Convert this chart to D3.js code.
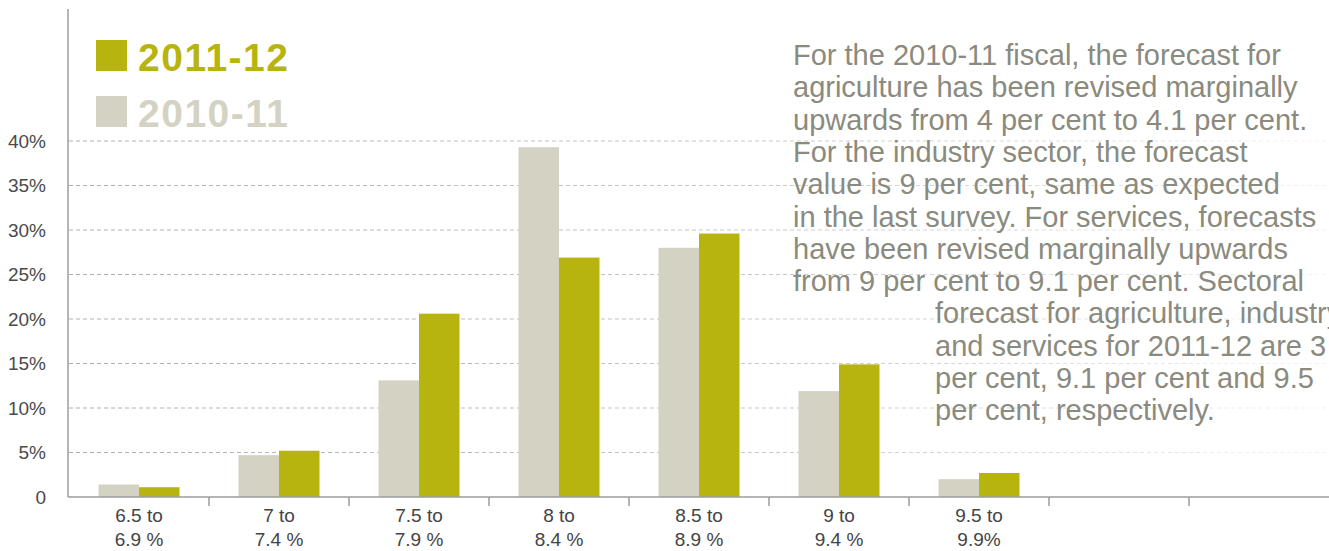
<!DOCTYPE html>
<html>
<head>
<meta charset="utf-8">
<script src="https://cdn.jsdelivr.net/npm/d3@7/dist/d3.min.js"></script>
<style>
  html, body { margin: 0; padding: 0; background: #ffffff; }
  svg { display: block; font-family: "Liberation Sans", Arial, Helvetica, sans-serif; }
</style>
</head>
<body>
<svg id="chart" width="1329" height="551"></svg>
<script>
// Growth-range buckets (two-line labels); the last two slots are left empty
const categories = ["6.5 to|6.9 %", "7 to|7.4 %", "7.5 to|7.9 %", "8 to|8.4 %", "8.5 to|8.9 %",
                    "9 to|9.4 %", "9.5 to|9.9%", "", " "];
const seriesNames = ["2010-11", "2011-12"];
// Share of respondents (%) per bucket
const values2010 = [1.4, 4.7, 13.1, 39.3, 28.0, 11.9, 2.0];
const values2011 = [1.1, 5.2, 20.6, 26.9, 29.6, 14.9, 2.7];
const yTicks = [0, 5, 10, 15, 20, 25, 30, 35, 40];
const yTickLabels = ["0", "5%", "10%", "15%", "20%", "25%", "30%", "35%", "40%"];
const legendOrder = ["2011-12", "2010-11"];
const noteLines = [
  "For the 2010-11 fiscal, the forecast for",
  "agriculture has been revised marginally",
  "upwards from 4 per cent to 4.1 per cent.",
  "For the industry sector, the forecast",
  "value is 9 per cent, same as expected",
  "in the last survey. For services, forecasts",
  "have been revised marginally upwards",
  "from 9 per cent to 9.1 per cent. Sectoral",
  "forecast for agriculture, industry",
  "and services for 2011-12 are 3",
  "per cent, 9.1 per cent and 9.5",
  "per cent, respectively."
];

const colors = { "2010-11": "#d4d2c3", "2011-12": "#b8b40f" };

const svg = d3.select("#chart");
const W = 1329;
const plotLeft = 69, plotRight = 1329, plotTop = 9, plotBottom = 497;

const x = d3.scaleBand().domain(categories).range([plotLeft, plotRight]).padding(0);
const xs = d3.scaleBand().domain(seriesNames).range([-40.5, 40.5]).padding(0);
const y = d3.scaleLinear().domain([0, 40]).range([plotBottom, 141]);

// gridline fade toward the right edge
const defs = svg.append("defs");
const grad = defs.append("linearGradient")
  .attr("id", "gridFade").attr("gradientUnits", "userSpaceOnUse")
  .attr("x1", plotLeft).attr("x2", W).attr("y1", 0).attr("y2", 0);
grad.append("stop").attr("offset", 0).attr("stop-color", "#b0b0b0");
grad.append("stop").attr("offset", 0.55).attr("stop-color", "#c8c8c8");
grad.append("stop").attr("offset", 1).attr("stop-color", "#f4f4f4");

// dashed horizontal gridlines
svg.append("g").selectAll("line")
  .data(yTicks.filter(d => d > 0))
  .join("line")
  .attr("x1", plotLeft).attr("x2", W)
  .attr("y1", d => y(d)).attr("y2", d => y(d))
  .attr("stroke", "url(#gridFade)")
  .attr("stroke-width", 1)
  .attr("stroke-dasharray", "4,3");

// y axis
const yAxis = d3.axisLeft(y).tickValues(yTicks)
  .tickFormat((d, i) => yTickLabels[i]).tickSize(0).tickPadding(22);
const gy = svg.append("g").attr("transform", `translate(${plotLeft - 1},0)`).call(yAxis);
gy.select(".domain").remove();
gy.selectAll("text").attr("font-size", 19).attr("fill", "#4a4a4a")
  .attr("font-family", "Liberation Sans, Arial, sans-serif");
svg.append("line").attr("x1", plotLeft - 1).attr("x2", plotLeft - 1)
  .attr("y1", plotTop).attr("y2", plotBottom)
  .attr("stroke", "#9c9c9c").attr("stroke-width", 1.5);

// bars
const rows = values2010.map((v, i) => ({ cat: categories[i], "2010-11": v, "2011-12": values2011[i] }));
const groups = svg.append("g").selectAll("g")
  .data(rows).join("g")
  .attr("transform", d => `translate(${x(d.cat) + x.bandwidth() / 2},0)`);
groups.selectAll("rect")
  .data(d => seriesNames.map(s => ({ s, v: d[s] })))
  .join("rect")
  .attr("x", d => xs(d.s))
  .attr("width", xs.bandwidth())
  .attr("y", d => y(d.v))
  .attr("height", d => y(0) - y(d.v))
  .attr("fill", d => colors[d.s]);

// x axis
const xAxis = d3.axisBottom(x).tickSize(0).tickFormat("");
const gx = svg.append("g").attr("transform", `translate(0,${plotBottom})`).call(xAxis);
gx.select(".domain").attr("stroke", "#9c9c9c").attr("stroke-width", 1.5)
  .attr("d", `M${plotLeft - 1},0H${W}`);
// separator ticks between buckets
gx.selectAll(".sep").data(categories.slice(1)).join("line").attr("class", "sep")
  .attr("x1", d => x(d)).attr("x2", d => x(d)).attr("y1", 0).attr("y2", 9)
  .attr("stroke", "#9c9c9c").attr("stroke-width", 1.5);
// two-line bucket labels
const lbl = svg.append("g").selectAll("text").data(categories.filter(c => c.trim() !== ""))
  .join("text")
  .attr("x", d => x(d) + x.bandwidth() / 2)
  .attr("text-anchor", "middle")
  .attr("font-size", 19).attr("fill", "#444");
lbl.selectAll("tspan").data(d => d.split("|")).join("tspan")
  .attr("x", function () { return d3.select(this.parentNode).attr("x"); })
  .attr("y", (d, i) => 522 + i * 24)
  .text(d => d);

// legend
const leg = svg.append("g").selectAll("g").data(legendOrder).join("g")
  .attr("transform", (d, i) => `translate(96,${40 + i * 56})`);
leg.append("rect").attr("width", 31).attr("height", 31).attr("fill", d => colors[d]);
leg.append("text").attr("x", 42).attr("y", 31)
  .attr("font-size", 39).attr("font-weight", "bold").attr("letter-spacing", 1.5)
  .attr("fill", d => colors[d]).text(d => d);

// commentary paragraph
svg.append("g").selectAll("text").data(noteLines).join("text")
  .attr("x", (d, i) => i < 8 ? 793 : 935)
  .attr("y", (d, i) => 65 + i * 32.3)
  .attr("font-size", 29).attr("fill", "#8a8a7e")
  .text(d => d);
</script>
</body>
</html>
